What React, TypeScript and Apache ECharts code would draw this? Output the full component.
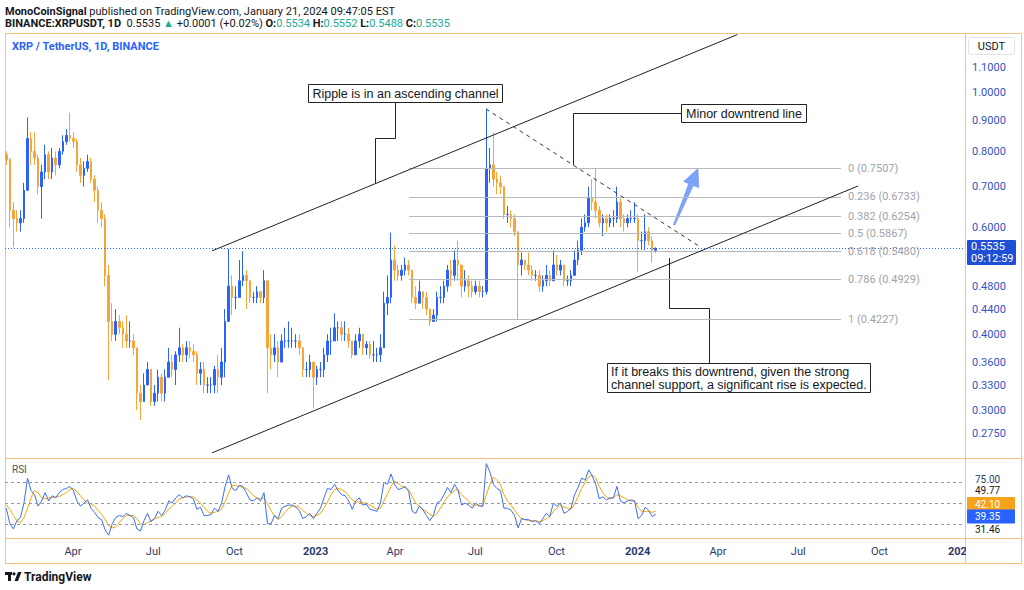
import React, { useEffect, useRef } from "react";
import * as echarts from "echarts";

// ---------- DATA ----------
// 4-day candles starting 2022-01-14 (day 0); last one is the partial 2024-01-20/21 candle
const STEP_DAYS = 4;
const FIRST_OPEN = 0.79;
const closes = [
  0.775, 0.64, 0.62, 0.61, 0.62, 0.69, 0.84, 0.8, 0.78, 0.7, 0.74, 0.79, 0.74, 0.78, 0.76, 0.8, 0.83, 0.85, 0.84, 0.83,
  0.76, 0.73, 0.75, 0.77, 0.72, 0.69, 0.64, 0.62, 0.5, 0.42, 0.4, 0.42, 0.41, 0.4, 0.39, 0.39, 0.38, 0.32, 0.31, 0.33,
  0.35, 0.31, 0.32, 0.34, 0.32, 0.34, 0.36, 0.35, 0.37, 0.38, 0.37, 0.38, 0.375, 0.37, 0.345, 0.35, 0.33, 0.33, 0.33, 0.35,
  0.34, 0.36, 0.42, 0.48, 0.46, 0.46, 0.49, 0.5, 0.49, 0.46, 0.46, 0.47, 0.46, 0.49, 0.38, 0.37, 0.38, 0.36, 0.39, 0.39,
  0.39, 0.39, 0.39, 0.38, 0.35, 0.35, 0.36, 0.34, 0.35, 0.35, 0.37, 0.39, 0.39, 0.41, 0.41, 0.4, 0.4, 0.39, 0.37, 0.39,
  0.4, 0.38, 0.385, 0.37, 0.37, 0.37, 0.38, 0.45, 0.46, 0.53, 0.51, 0.5, 0.51, 0.52, 0.51, 0.46, 0.45, 0.47, 0.46, 0.44,
  0.42, 0.43, 0.46, 0.46, 0.48, 0.51, 0.5, 0.53, 0.52, 0.48, 0.49, 0.48, 0.47, 0.48, 0.47, 0.47, 0.75, 0.76, 0.72, 0.71,
  0.7, 0.63, 0.63, 0.62, 0.59, 0.52, 0.53, 0.52, 0.51, 0.5, 0.5, 0.48, 0.49, 0.5, 0.49, 0.52, 0.51, 0.52, 0.49, 0.49,
  0.5, 0.53, 0.55, 0.6, 0.61, 0.67, 0.66, 0.64, 0.61, 0.62, 0.61, 0.62, 0.62, 0.66, 0.62, 0.61, 0.62, 0.62, 0.62, 0.57,
  0.57, 0.59, 0.57, 0.55, 0.5535,
];
const highs = [
  0.8, 0.78, 0.66, 0.64, 0.64, 0.71, 0.91, 0.86, 0.86, 0.79, 0.76, 0.82, 0.8, 0.81, 0.8, 0.81, 0.85, 0.87, 0.926, 0.86,
  0.84, 0.78, 0.77, 0.79, 0.78, 0.73, 0.7, 0.66, 0.63, 0.52, 0.45, 0.44, 0.43, 0.42, 0.43, 0.42, 0.4, 0.38, 0.33, 0.345,
  0.36, 0.35, 0.33, 0.35, 0.345, 0.35, 0.38, 0.37, 0.375, 0.41, 0.385, 0.39, 0.39, 0.385, 0.375, 0.36, 0.36, 0.34, 0.34, 0.355,
  0.37, 0.38, 0.44, 0.553, 0.5, 0.48, 0.53, 0.548, 0.51, 0.49, 0.47, 0.48, 0.47, 0.51, 0.49, 0.4, 0.4, 0.39, 0.4, 0.41,
  0.42, 0.41, 0.4, 0.4, 0.38, 0.36, 0.37, 0.36, 0.355, 0.36, 0.38, 0.4, 0.41, 0.433, 0.42, 0.42, 0.42, 0.41, 0.39, 0.4,
  0.41, 0.4, 0.39, 0.39, 0.39, 0.38, 0.4, 0.47, 0.5, 0.588, 0.56, 0.52, 0.52, 0.535, 0.53, 0.51, 0.48, 0.49, 0.47, 0.47,
  0.44, 0.44, 0.47, 0.48, 0.49, 0.52, 0.53, 0.55, 0.57, 0.52, 0.51, 0.5, 0.49, 0.49, 0.49, 0.48, 0.94, 0.81, 0.86, 0.74,
  0.73, 0.7, 0.65, 0.64, 0.63, 0.59, 0.545, 0.53, 0.545, 0.52, 0.51, 0.51, 0.5, 0.52, 0.51, 0.55, 0.54, 0.53, 0.52, 0.5,
  0.51, 0.55, 0.57, 0.62, 0.63, 0.7, 0.72, 0.7507, 0.65, 0.63, 0.63, 0.63, 0.64, 0.7, 0.67, 0.63, 0.63, 0.64, 0.66, 0.63,
  0.59, 0.63, 0.6, 0.58, 0.556,
];
const lows = [
  0.76, 0.6, 0.556, 0.59, 0.59, 0.61, 0.69, 0.76, 0.76, 0.68, 0.62, 0.72, 0.72, 0.72, 0.73, 0.75, 0.79, 0.82, 0.83, 0.81,
  0.74, 0.71, 0.7, 0.74, 0.71, 0.66, 0.61, 0.6, 0.48, 0.336, 0.39, 0.39, 0.4, 0.38, 0.38, 0.38, 0.37, 0.3, 0.289, 0.31,
  0.33, 0.305, 0.305, 0.31, 0.31, 0.31, 0.34, 0.34, 0.33, 0.36, 0.36, 0.36, 0.365, 0.36, 0.33, 0.33, 0.32, 0.32, 0.32, 0.32,
  0.32, 0.33, 0.34, 0.42, 0.43, 0.44, 0.46, 0.48, 0.44, 0.45, 0.45, 0.45, 0.45, 0.45, 0.32, 0.35, 0.36, 0.34, 0.36, 0.38,
  0.38, 0.38, 0.38, 0.37, 0.34, 0.34, 0.34, 0.302, 0.33, 0.34, 0.34, 0.36, 0.37, 0.39, 0.39, 0.39, 0.39, 0.38, 0.365, 0.37,
  0.38, 0.37, 0.37, 0.365, 0.36, 0.36, 0.36, 0.38, 0.43, 0.45, 0.49, 0.49, 0.49, 0.5, 0.5, 0.45, 0.44, 0.46, 0.44, 0.43,
  0.413, 0.42, 0.42, 0.45, 0.45, 0.47, 0.48, 0.49, 0.49, 0.46, 0.47, 0.46, 0.46, 0.465, 0.46, 0.46, 0.465, 0.71, 0.7, 0.68,
  0.68, 0.62, 0.61, 0.6, 0.58, 0.4227, 0.5, 0.51, 0.5, 0.49, 0.49, 0.47, 0.47, 0.48, 0.48, 0.49, 0.5, 0.5, 0.48, 0.48,
  0.48, 0.5, 0.52, 0.54, 0.59, 0.6, 0.64, 0.62, 0.6, 0.58, 0.59, 0.6, 0.6, 0.61, 0.6, 0.59, 0.6, 0.61, 0.61, 0.506,
  0.55, 0.55, 0.56, 0.525, 0.545,
];
const rsiValues = [
  45, 30, 25, 33, 36, 50, 74, 62, 58, 47, 52, 60, 52, 57, 55, 60, 63, 64, 66, 62,
  52, 47, 50, 53, 45, 41, 36, 34, 24, 19, 30, 36, 38, 37, 40, 38, 36, 25, 23, 33,
  40, 32, 35, 42, 38, 43, 52, 50, 55, 58, 55, 57, 56, 54, 44, 46, 38, 38, 39, 45,
  42, 50, 66, 77, 64, 62, 67, 66, 60, 53, 52, 55, 52, 60, 30, 30, 38, 35, 45, 47,
  48, 48, 46, 43, 35, 37, 40, 35, 40, 45, 55, 64, 63, 68, 62, 58, 57, 52, 44, 52,
  55, 48, 49, 44, 43, 42, 50, 70, 68, 78, 68, 63, 64, 66, 61, 42, 40, 47, 44, 38,
  33, 38, 50, 52, 58, 65, 60, 68, 62, 48, 50, 48, 45, 50, 47, 47, 88, 80, 68, 64,
  62, 45, 45, 43, 38, 26, 35, 34, 34, 32, 33, 30, 35, 40, 37, 50, 47, 50, 40, 42,
  45, 58, 65, 74, 72, 82, 76, 68, 54, 56, 53, 55, 55, 66, 52, 50, 52, 53, 52, 35,
  38, 46, 43, 37, 39.35,
];
const rsiMaValues = [
  48, 44, 38, 33, 31, 36, 45, 55, 62, 60, 55, 54, 55, 55, 56, 56, 58, 60, 63, 64,
  61, 57, 53, 50, 49, 47, 43, 39, 34, 28, 26, 27, 31, 35, 38, 38, 38, 35, 30, 29,
  31, 33, 35, 36, 37, 40, 44, 47, 50, 54, 55, 56, 56, 56, 53, 50, 46, 42, 40, 41,
  42, 44, 51, 60, 67, 67, 66, 65, 64, 61, 57, 55, 54, 55, 49, 43, 37, 34, 37, 41,
  45, 47, 47, 46, 43, 40, 38, 37, 38, 40, 45, 51, 58, 63, 64, 63, 61, 57, 53, 51,
  51, 50, 50, 48, 46, 44, 45, 52, 59, 66, 71, 69, 66, 65, 63, 56, 50, 47, 44, 42,
  39, 37, 40, 45, 51, 56, 59, 62, 63, 58, 55, 52, 48, 48, 48, 47, 58, 68, 75, 72,
  68, 58, 52, 48, 43, 38, 35, 34, 33, 33, 33, 32, 33, 35, 37, 42, 45, 48, 46, 45,
  44, 49, 56, 64, 70, 75, 77, 74, 66, 60, 56, 54, 55, 58, 57, 55, 53, 52, 52, 46,
  42, 42, 42, 41, 42.1,
];
const priceTicks = [1.1, 1.0, 0.9, 0.8, 0.7, 0.6, 0.48, 0.44, 0.4, 0.36, 0.33, 0.3, 0.275];
// days since 2022-01-14 for the time-axis labels
const timeTickDays = [77, 168, 260, 352, 442, 533, 625, 717, 808, 899, 991, 1083];
const timeTickLabels = ["Apr", "Jul", "Oct", "2023", "Apr", "Jul", "Oct", "2024", "Apr", "Jul", "Oct", "2025"];
const fibRatios = ["0", "0.236", "0.382", "0.5", "0.618", "0.786", "1"];
const fibPrices = [0.7507, 0.6733, 0.6254, 0.5867, 0.548, 0.4929, 0.4227];
const rsiBands = [70, 50, 30];
const lastPrice = 0.5535;

// ---------- BUILD ----------
const LN = Math.log;
const dayOf = (i: number) => i * STEP_DAYS + 1.5;
const BLUE = "#2962ff";
const ORANGE = "#f7a53a";
const FRAME = "#f8c27c";
const AXIS_TXT = "#3653c4";
const FONT_UI = "Roboto, 'Noto Sans', sans-serif";
const FONT_NOTE = "'Liberation Sans', Arial, sans-serif";
const NOTE_FONT = `12.5px ${FONT_NOTE}`;

const candleData = closes.map((c, i) => {
  const o = i === 0 ? FIRST_OPEN : closes[i - 1];
  const h = Math.max(highs[i], o, c);
  const l = Math.min(lows[i], o, c);
  return [dayOf(i), LN(o), LN(c), LN(l), LN(h)];
});
const rsiData = rsiValues.map((v, i) => [dayOf(i), v]);
const rsiMaData = rsiMaValues.map((v, i) => [dayOf(i), v]);

const lineSeg = (x1: number, p1: number, x2: number, p2: number, style: any) => [
  { coord: [x1, LN(p1)], lineStyle: style },
  { coord: [x2, LN(p2)] },
];

const fibLines = fibPrices.map((p, k) => [
  {
    coord: [458, LN(p)],
    lineStyle: { color: "#b7b9c0", width: 1, type: "solid" },
    label: {
      show: true,
      position: "end",
      distance: 7,
      formatter: `${fibRatios[k]} (${p.toFixed(4)})`,
      color: "#a0a3ab",
      fontSize: 11,
      fontFamily: FONT_UI,
    },
  },
  { coord: [947.5, LN(p)] },
]);

const noteLine = { color: "#222", width: 1 };
const txt = (x: number, y: number, text: string, font: string, fill: string, extra: any = {}) => ({
  type: "text",
  x,
  y,
  ...extra,
  style: { text, font, fill, verticalAlign: "middle", textVerticalAlign: "middle", ...(extra.style || {}) },
});

const option: any = {
  animation: false,
  backgroundColor: "#ffffff",
  grid: [
    { left: 5, right: 59, top: 34, height: 424 },
    { left: 5, right: 59, top: 459, height: 79 },
  ],
  xAxis: [
    {
      type: "value",
      gridIndex: 0,
      min: 0,
      max: 1088,
      axisLine: { show: false },
      axisTick: { show: false },
      axisLabel: { show: false },
      splitLine: { show: false },
    },
    {
      type: "value",
      gridIndex: 1,
      min: 0,
      max: 1088,
      axisLine: { show: false },
      axisTick: { show: false },
      splitLine: { show: false },
      axisLabel: {
        show: true,
        customValues: timeTickDays,
        margin: 8,
        fontSize: 11,
        fontFamily: FONT_UI,
        color: "#2b3a6b",
        formatter: (v: number) => {
          const k = timeTickDays.indexOf(Math.round(v));
          const t = k >= 0 ? timeTickLabels[k] : "";
          return /^\d{4}$/.test(t) ? `{b|${t}}` : t;
        },
        rich: { b: { fontWeight: "bold", fontSize: 11, fontFamily: FONT_UI, color: "#2b3a6b" } },
      },
    },
  ],
  yAxis: [
    {
      type: "value",
      gridIndex: 0,
      position: "right",
      min: LN(0.2503),
      max: LN(1.2478),
      axisLine: { show: false },
      axisTick: { show: false },
      splitLine: { show: false },
      axisLabel: {
        show: true,
        customValues: priceTicks.map(LN),
        margin: 7,
        fontSize: 11,
        fontFamily: FONT_UI,
        color: AXIS_TXT,
        formatter: (v: number) => Math.exp(v).toFixed(4),
      },
    },
    {
      type: "value",
      gridIndex: 1,
      position: "right",
      min: 16.3,
      max: 92.4,
      axisLine: { show: false },
      axisTick: { show: false },
      splitLine: { show: false },
      axisLabel: { show: false },
    },
  ],
  series: [
    {
      type: "candlestick",
      xAxisIndex: 0,
      yAxisIndex: 0,
      data: candleData,
      encode: { x: 0, y: [1, 2, 3, 4] },
      barWidth: 2,
      itemStyle: { color: BLUE, color0: ORANGE, borderColor: BLUE, borderColor0: ORANGE, borderWidth: 1 },
      markLine: {
        silent: true,
        symbol: ["none", "none"],
        animation: false,
        label: { show: false },
        data: [
          ...fibLines,
          lineSeg(234.6, 0.5486, 830, 1.245, { ...noteLine, type: "solid" }),
          lineSeg(234.6, 0.2552, 966.9, 0.7017, { ...noteLine, type: "solid" }),
          lineSeg(545.2, 0.9394, 787.8, 0.557, { color: "#333", width: 1, type: [4, 4] }),
          [
            { coord: [0, LN(lastPrice)], lineStyle: { color: BLUE, width: 1, type: [1, 2] } },
            { coord: [1088, LN(lastPrice)] },
          ],
        ],
      },
    },
    {
      type: "line",
      xAxisIndex: 1,
      yAxisIndex: 1,
      data: rsiMaData,
      showSymbol: false,
      lineStyle: { color: "#f7a600", width: 1 },
      z: 2,
    },
    {
      type: "line",
      xAxisIndex: 1,
      yAxisIndex: 1,
      data: rsiData,
      showSymbol: false,
      lineStyle: { color: "#3b6cf6", width: 1 },
      z: 3,
      markLine: {
        silent: true,
        symbol: ["none", "none"],
        label: { show: false },
        lineStyle: { color: "#9598a1", width: 1, type: [3, 3] },
        data: rsiBands.map((b) => ({ yAxis: b })),
      },
    },
  ],
  graphic: [
    // frame
    { type: "line", shape: { x1: 5, y1: 33.5, x2: 1022, y2: 33.5 }, style: { stroke: FRAME, lineWidth: 1 } },
    { type: "line", shape: { x1: 5, y1: 458.5, x2: 1022, y2: 458.5 }, style: { stroke: FRAME, lineWidth: 1 } },
    { type: "line", shape: { x1: 5, y1: 538.5, x2: 1022, y2: 538.5 }, style: { stroke: FRAME, lineWidth: 1 } },
    { type: "line", shape: { x1: 5, y1: 563.5, x2: 1022, y2: 563.5 }, style: { stroke: FRAME, lineWidth: 1 } },
    { type: "line", shape: { x1: 5.5, y1: 33, x2: 5.5, y2: 564 }, style: { stroke: FRAME, lineWidth: 1 } },
    { type: "line", shape: { x1: 965.5, y1: 33, x2: 965.5, y2: 564 }, style: { stroke: FRAME, lineWidth: 1 } },
    { type: "line", shape: { x1: 1021.5, y1: 33, x2: 1021.5, y2: 564 }, style: { stroke: FRAME, lineWidth: 1 } },
    // cover for clipped time label
    { type: "rect", shape: { x: 966, y: 540, width: 55, height: 23 }, style: { fill: "#fff" }, z: 100 },
    // header
    txt(5, 11, "{b|MonoCoinSignal} published on TradingView.com, January 21, 2024 09:47:05 EST", `11px ${FONT_UI}`, "#131722", {
      style: { rich: { b: { fontWeight: "bold", fontSize: 11, fontFamily: FONT_UI, fill: "#131722" } } },
    }),
    txt(
      5,
      23,
      "{b|BINANCE:XRPUSDT, 1D}  0.5535 {g|▲} +0.0001 (+0.02%) {b|O:}{g|0.5534} {b|H:}{g|0.5552} {b|L:}{g|0.5488} {b|C:}{g|0.5535}",
      `11px ${FONT_UI}`,
      "#131722",
      {
        style: {
          rich: {
            b: { fontWeight: "bold", fontSize: 11, fontFamily: FONT_UI, fill: "#131722" },
            g: { fontSize: 11, fontFamily: FONT_UI, fill: "#22ab94" },
          },
        },
      }
    ),
    txt(12, 46, "XRP / TetherUS, 1D, BINANCE", `bold 11px ${FONT_UI}`, BLUE),
    txt(12, 469, "RSI", `10px ${FONT_UI}`, "#50535e"),
    // USDT box
    { type: "rect", shape: { x: 968.5, y: 37.5, width: 46, height: 17, r: 2 }, style: { fill: "#fff", stroke: "#e0e3eb", lineWidth: 1 } },
    txt(991.5, 46, "USDT", `11px ${FONT_UI}`, "#131722", { style: { align: "center", textAlign: "center" } }),
    // last price box
    { type: "rect", shape: { x: 967, y: 240, width: 49, height: 25, r: 1 }, style: { fill: "#1f4fd6" }, z: 50 },
    txt(971, 246.5, "0.5535", `11px ${FONT_UI}`, "#fff", { z: 51 }),
    txt(971, 258.5, "09:12:59", `11px ${FONT_UI}`, "#fff", { z: 51 }),
    // RSI scale labels
    txt(975, 479.5, "75.00", `10px ${FONT_UI}`, "#2b3a6b"),
    txt(975, 490.5, "49.77", `10px ${FONT_UI}`, "#131722"),
    { type: "rect", shape: { x: 967, y: 497, width: 48, height: 14, r: 1 }, style: { fill: "#f7a21b" } },
    txt(975, 504, "42.10", `10px ${FONT_UI}`, "#fff"),
    { type: "rect", shape: { x: 967, y: 509.5, width: 48, height: 14, r: 1 }, style: { fill: "#2962ff" } },
    txt(975, 516.5, "39.35", `10px ${FONT_UI}`, "#fff"),
    txt(975, 529, "31.46", `10px ${FONT_UI}`, "#131722"),
    // annotation 1
    {
      type: "polyline",
      shape: { points: [[395.5, 102], [395.5, 138.5], [375.5, 138.5], [375.5, 183]] },
      style: { stroke: "#222", lineWidth: 1, fill: null },
    },
    { type: "rect", shape: { x: 308.5, y: 84.5, width: 194, height: 18 }, style: { fill: "#fff", stroke: "#222", lineWidth: 1 } },
    txt(405.5, 94, "Ripple is in an ascending channel", NOTE_FONT, "#131722", { style: { align: "center", textAlign: "center" } }),
    // annotation 2
    {
      type: "polyline",
      shape: { points: [[681, 113.5], [573.5, 113.5], [573.5, 165]] },
      style: { stroke: "#222", lineWidth: 1, fill: null },
    },
    { type: "rect", shape: { x: 681.5, y: 104.5, width: 125, height: 18 }, style: { fill: "#fff", stroke: "#222", lineWidth: 1 } },
    txt(744, 114, "Minor downtrend line", NOTE_FONT, "#131722", { style: { align: "center", textAlign: "center" } }),
    // annotation 3
    {
      type: "polyline",
      shape: { points: [[669.5, 258], [669.5, 308.5], [709.5, 308.5], [709.5, 363]] },
      style: { stroke: "#222", lineWidth: 1, fill: null },
    },
    { type: "rect", shape: { x: 607.5, y: 363.5, width: 263, height: 29 }, style: { fill: "#fff", stroke: "#222", lineWidth: 1 } },
    txt(611, 372, "If it breaks this downtrend, given the strong", NOTE_FONT, "#131722"),
    txt(611, 385, "channel support, a significant rise is expected.", NOTE_FONT, "#131722"),
    // blue arrow
    {
      type: "polygon",
      shape: {
        points: [
          [673.4, 224.7],
          [688.7, 183.6],
          [683.6, 181.5],
          [698, 168.5],
          [698.8, 187.7],
          [693.3, 185.6],
          [674.8, 225.3],
        ],
      },
      style: { fill: "#4f86f7", opacity: 0.75, stroke: "#3f76ef", lineWidth: 0.5 },
    },
    // TradingView logo
    { type: "rect", shape: { x: 5, y: 572, width: 7, height: 3 }, style: { fill: "#131722" } },
    { type: "rect", shape: { x: 8, y: 572, width: 3, height: 9 }, style: { fill: "#131722" } },
    { type: "circle", shape: { cx: 14, cy: 573.8, r: 1.6 }, style: { fill: "#131722" } },
    { type: "polygon", shape: { points: [[14.5, 581], [18, 572], [21.5, 572], [18, 581]] }, style: { fill: "#131722" } },
    txt(24, 577, "TradingView", `bold 12px ${FONT_UI}`, "#131722"),
  ],
};

export default function App() {
  const ref = useRef<HTMLDivElement>(null);
  useEffect(() => {
    if (!ref.current) return;
    const chart = echarts.init(ref.current, null, { renderer: "svg" });
    chart.setOption(option);
    return () => chart.dispose();
  }, []);
  return <div ref={ref} style={{ position: "absolute", left: 0, top: 0, width: 1024, height: 590 }} />;
}
